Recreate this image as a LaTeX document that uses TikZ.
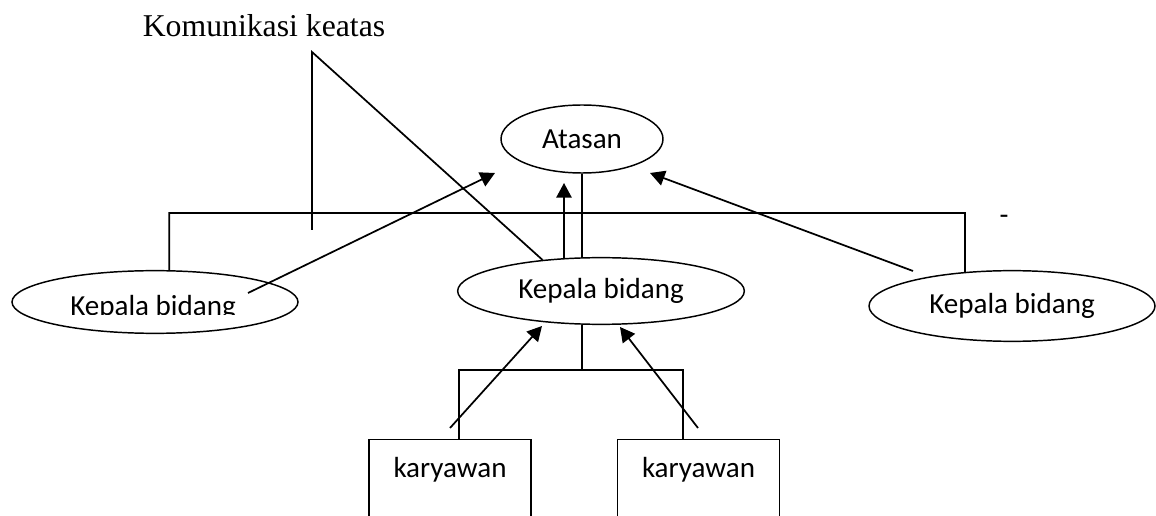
\documentclass[tikz,border=0pt]{standalone}
\usepackage{fontspec}
\setmainfont{Carlito}
\newfontfamily\judulfont{Liberation Serif}
\usetikzlibrary{shapes.geometric, arrows.meta}
\newcommand*{\kepala}{\raisebox{-3.75pt}{Kepala bidang}}

\begin{document}
\begin{tikzpicture}[x=0.75pt, y=-0.75pt, line width=1.3pt]
      \useasboundingbox (0,0) rectangle (1156,516);
      \clip (0,0) rectangle (1156,516);
      \tikzstyle{panah}=[-{Triangle[length=11pt, width=11.5pt]}]

      \node [font=\judulfont\fontsize{23.8}{28}\selectfont] (judul) at (264,26) {Komunikasi keatas};

      {\tikzstyle{every node}=[ellipse, draw, inner sep=0pt, line width=1.1pt, font=\fontsize{21.8}{26}\selectfont]
        \node [minimum width=121.5pt, minimum height=51pt] (atasan) at (582,139) {Atasan};
        \node [minimum width=215pt, minimum height=50pt] (kb2) at (601,291) {\kepala};
        \node [minimum width=214.5pt, minimum height=47pt] (kb1) at (155,302) {};
        \node [minimum width=214.5pt, minimum height=53pt] (kb3) at (1012,306) {\kepala};
      }

      % teks ellips kiri terpotong di bawah
      \begin{scope}
        \clip (0,0) rectangle (1156,315);
        \node [font=\fontsize{21.8}{26}\selectfont] (teks1) at (153,308) {Kepala bidang};
      \end{scope}

      {\tikzstyle{every node}=[rectangle, draw, anchor=north, inner sep=0pt, line width=1.1pt,
          minimum width=121.5pt, text height=28.5pt, text depth=50pt, font=\fontsize{21.8}{26}\selectfont]
        \foreach \i/\x in {1/450, 2/698.5}
        {
          \node (kry\i) at (\x,439) {karyawan};
        }
      }

      \node [inner sep=0pt, font=\fontsize{21.8}{26}\selectfont] (strip) at (1004,220) {-};

      \coordinate (puncak) at (312,52);
      \coordinate (kaki) at (312,230);
      \coordinate (cabang) at (582,370);

      \draw
        (kaki) -- (puncak) -- (kb2.152)
        (atasan.south) -- (atasan.south |- kb2.north)
        (kb1.66) -- ++(0,-57) -| (kb3.144)
        (cabang |- kb2.south) -- (cabang)
        ([xshift=6.75pt]kry1.north) |- (cabang) -| ([xshift=-11.6pt]kry2.north);

      \coordinate (a1) at (248,293);
      \coordinate (b1) at (495,173);
      \coordinate (b2) at (564,183);
      \coordinate (a3) at (913,271);
      \coordinate (b3) at (650,173);
      \coordinate (a4) at (450,428);
      \coordinate (b4) at (542,326);
      \coordinate (a5) at (698,428);
      \coordinate (b5) at (620,327);

      \draw [panah] (a1) -- (b1);
      \draw [panah] (b2 |- kb2.139) -- (b2);
      \draw [panah] (a3) -- (b3);
      \draw [panah] (a4) -- (b4);
      \draw [panah] (a5) -- (b5);
    \end{tikzpicture}
\end{document}
